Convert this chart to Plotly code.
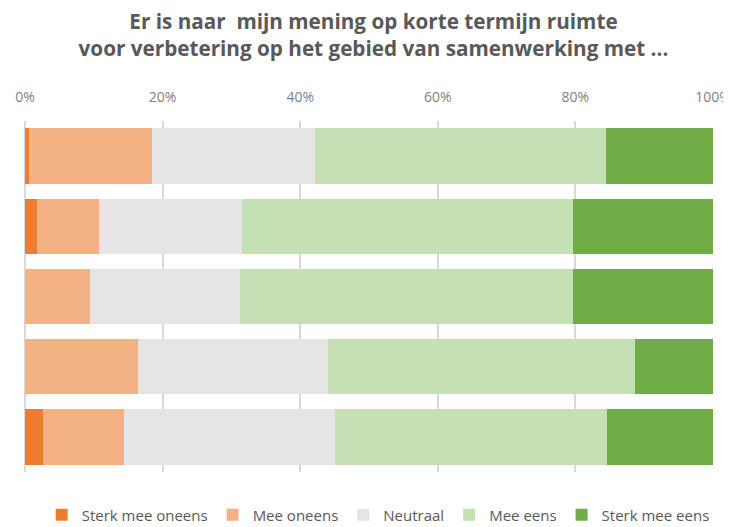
import plotly.graph_objects as go

categories = ["A", "B", "C", "D", "E"]
series_names = ["Sterk mee oneens", "Mee oneens", "Neutraal", "Mee eens", "Sterk mee eens"]
sterk_mee_oneens = [0.6, 1.7, 0.0, 0.0, 2.6]
mee_oneens = [17.9, 9.0, 9.4, 16.4, 11.8]
neutraal = [23.6, 20.9, 21.8, 27.6, 30.6]
mee_eens = [42.3, 48.1, 48.4, 44.6, 39.6]
sterk_mee_eens = [15.6, 20.3, 20.4, 11.4, 15.4]
tick_vals = [0, 20, 40, 60, 80, 100]
tick_text = ["0%", "20%", "40%", "60%", "80%", "100%"]

colors = ["#ED7D31", "#F4B183", "#E5E5E5", "#C5E0B4", "#70AD47"]
values = [sterk_mee_oneens, mee_oneens, neutraal, mee_eens, sterk_mee_eens]

W, H = 723, 519  # page has an 8px body margin

fig = go.Figure()
for name, vals, col in zip(series_names, values, colors):
    fig.add_trace(go.Bar(
        y=categories, x=vals, name=name, orientation="h",
        marker=dict(color=col, line=dict(width=0)),
        hoverinfo="x+name",
    ))

fig.update_layout(
    barmode="stack",
    bargap=0.213,
    width=W, height=H,
    paper_bgcolor="white", plot_bgcolor="white",
    margin=dict(l=17, r=18, t=113, b=55),
    font=dict(family="Open Sans, sans-serif", color="#7F7F7F"),
    title=dict(
        text="Er is naar  mijn mening op korte termijn ruimte<br>voor verbetering op het gebied van samenwerking met ...",
        x=0.5055, xanchor="center", y=1 - 21 / H, yanchor="top",
        font=dict(family="Open Sans, sans-serif", size=20.7, color="#595959", weight="bold"),
    ),
    xaxis=dict(
        side="top", range=[0, 100], tickvals=tick_vals, ticktext=tick_text,
        showgrid=True, gridcolor="#D9D9D9", gridwidth=1.5,
        zeroline=True, zerolinecolor="#D9D9D9", zerolinewidth=1.5,
        tickfont=dict(size=14, color="#7F7F7F"), ticks="", ticklabelstandoff=15,
        fixedrange=True, automargin=False,
    ),
    yaxis=dict(
        autorange="reversed", showticklabels=False, showgrid=False, zeroline=False,
        ticks="", fixedrange=True, automargin=False,
    ),
    legend=dict(
        orientation="h", xref="container", yref="container",
        x=0.512, xanchor="center", y=12 / H, yanchor="middle",
        font=dict(size=15, color="#595959"), traceorder="normal",
        itemwidth=30,
    ),
    showlegend=True,
)

fig.write_html("out.html")
